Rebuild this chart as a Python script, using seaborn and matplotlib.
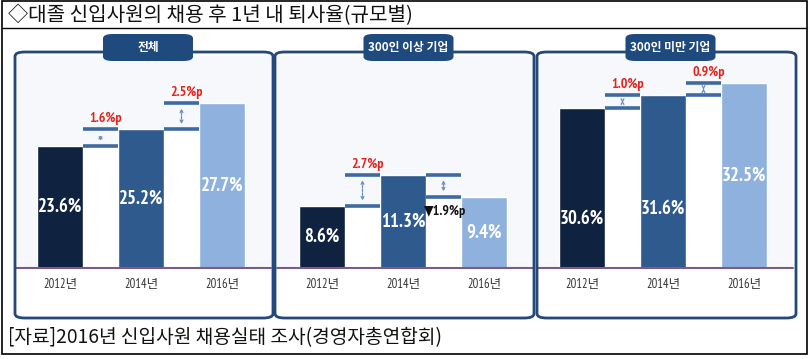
import matplotlib
matplotlib.use("Agg")
import matplotlib.pyplot as plt
from matplotlib import font_manager
from matplotlib.patches import FancyBboxPatch, Rectangle
import seaborn as sns

# 데이터
years = ["2012년", "2014년", "2016년"]
panel_titles = ["전체", "300인 이상 기업", "300인 미만 기업"]
rate_total = [23.6, 25.2, 27.7]
rate_large = [8.6, 11.3, 9.4]
rate_small = [30.6, 31.6, 32.5]
title_text = "◇대졸 신입사원의 채용 후 1년 내 퇴사율(규모별)"
source_text = "[자료]2016년 신입사원 채용실태 조사(경영자총연합회)"

bar_colors = ["#0f2240", "#2f5a8e", "#8eb1de"]
line_color = "#3d6aa3"
navy = "#1f4a7e"

sns.set_theme(style="white")
installed = {f.name for f in font_manager.fontManager.ttflist}
narrow = "PT Sans Narrow" if "PT Sans Narrow" in installed else "DejaVu Sans"
kr = "Noto Sans CJK KR"
plt.rcParams["font.family"] = [kr, "DejaVu Sans"]

W, H = 810, 359
fig = plt.figure(figsize=(W / 100, H / 100), dpi=100)


def fx(x):
    return x / W


def fy(y):
    return 1 - y / H


# 바깥 테두리와 제목 구분선
fig.patches.append(Rectangle((fx(2), fy(354)), fx(805), 353 / H, transform=fig.transFigure,
                             fill=False, edgecolor="black", lw=1.2, zorder=5))
fig.lines.append(plt.Line2D([fx(2), fx(807)], [fy(28), fy(28)], transform=fig.transFigure,
                            color="black", lw=1.0, zorder=5))
fig.text(fx(8), fy(15), title_text, fontsize=14.5, va="center", ha="left", color="#111")
fig.text(fx(8), fy(338), source_text, fontsize=13.8, va="center", ha="left", color="#111")

panels = [
    # (values, first bar centre px, baseline value, px per unit, panel box, label fractions)
    (rate_total, 60, 12.0, 10.5, (15, 273), [0.5, 0.5, 0.5]),
    (rate_large, 322, 3.2, 11.5, (275, 534), [0.5, 0.5, 0.5]),
    (rate_small, 582, 18.5, 13.2, (537, 796), [0.31, 0.34, 0.5]),
]
step = 81
bar_w = 46 / step
top_px, base_px = 56, 268

for (vals, c0, v0, k, (bx0, bx1), fracs), ptitle in zip(panels, panel_titles):
    # 패널 박스
    fig.patches.append(FancyBboxPatch((fx(bx0), fy(318)), fx(bx1 - bx0), (318 - 52) / H,
                                      boxstyle="round,pad=0,rounding_size=0.012",
                                      transform=fig.transFigure, facecolor="none",
                                      edgecolor="#24487a", lw=2.0, zorder=4))
    left = c0 - 0.55 * step
    ax = fig.add_axes([fx(left), fy(base_px), fx(3.15 * step), (base_px - top_px) / H])
    ax.set_facecolor("#f6f8fb")
    sns.barplot(x=years, y=vals, hue=years, palette=bar_colors, legend=False,
                width=bar_w, saturation=1, ax=ax, zorder=3)
    ax.set_xlim(-0.55, 2.6)
    ax.set_ylim(v0, v0 + (base_px - top_px) / k)
    for s in ax.spines.values():
        s.set_visible(False)
    ax.set_yticks([])
    ax.set_xlabel("")
    ax.set_ylabel("")
    ax.tick_params(axis="x", length=0, pad=7, labelsize=9, labelcolor="#333")
    for t in ax.get_xticklabels():
        t.set_fontfamily([narrow, kr])
        t.set_fontstretch("condensed")
    ax.axhline(v0, color="#7b5b8c", lw=1.5, clip_on=False, zorder=4)

    half = bar_w / 2
    for i in range(len(vals) - 1):
        a, b = vals[i], vals[i + 1]
        g0, g1 = i + half, i + 1 - half
        lo, hi = min(a, b), max(a, b)
        ax.bar((g0 + g1) / 2, lo - v0, bottom=v0, width=g1 - g0, color="white", zorder=2)
        ax.hlines([lo, hi], g0, g1, color=line_color, lw=2.6, zorder=4)
        xm = (g0 + g1) / 2
        pad = 2.5 / k
        ax.annotate("", xy=(xm, hi - pad), xytext=(xm, lo + pad),
                    arrowprops=dict(arrowstyle="<->", lw=0.9, color="#6b8fc2",
                                    linestyle=(0, (2, 1)), mutation_scale=5), zorder=4)
        d = b - a
        if d >= 0:
            ax.text(xm + 0.06, hi + 4 / k, f"{d:.1f}%p", ha="center", va="bottom",
                    color="#e3231c", fontsize=10, fontweight="bold", fontstretch="condensed",
                    family=[narrow, "DejaVu Sans"])
        else:
            ax.text(g0 - 0.02, lo - 8 / k, f"▼{abs(d):.1f}%p", ha="left", va="top",
                    color="#111", fontsize=10, fontweight="bold", fontstretch="condensed",
                    family=[narrow, "DejaVu Sans"], zorder=6)

    for i, (v, fr) in enumerate(zip(vals, fracs)):
        ax.text(i, v0 + fr * (v - v0), f"{v}%", ha="center", va="center", color="white",
                fontsize=13.5, fontweight="bold", fontstretch="condensed",
                family=[narrow, "DejaVu Sans"], zorder=5)

    # 탭
    tc = (bx0 + bx1) / 2 + 4
    tw = 90
    fig.patches.append(FancyBboxPatch((fx(tc - tw / 2), fy(61)), fx(tw), 27 / H,
                                      boxstyle="round,pad=0,rounding_size=0.012",
                                      transform=fig.transFigure, facecolor=navy,
                                      edgecolor="none", zorder=6))
    fig.text(fx(tc), fy(47), ptitle, ha="center", va="center", color="white",
             fontsize=8.5, fontweight="bold", zorder=7)

fig.savefig("out.png", dpi=100, facecolor="white")
